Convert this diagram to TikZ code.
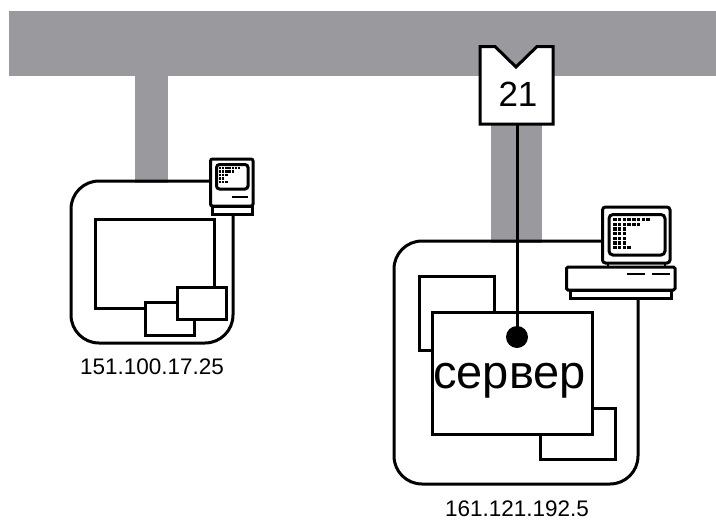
\documentclass[tikz,border=0pt]{standalone}
\usepackage{fontspec}
\setmainfont{Liberation Sans}
\tikzset{
  ln/.style={draw=black,line width=3pt},
  wbox/.style={ln,fill=white,rectangle,inner sep=0pt,outer sep=0pt,anchor=north west},
  label txt/.style={font=\fontsize{22.5}{24}\selectfont,inner sep=0pt},
  bar/.style={fill=barg,draw=none},
  pix/.style={fill=black,draw=none}
}
\definecolor{barg}{HTML}{99999E}
\newcommand{\boxat}[5]{\node[wbox,minimum width=#4pt,minimum height=#5pt] (#1) at (#2,#3) {};}
\newcommand{\dotrow}[5]{% x0,y,dx,count,size
  \foreach \i in {1,...,#4} {\fill[pix] ({#1+(\i-1)*#3-#5/2},{#2-#5/2}) rectangle ++(#5,#5);}}
\begin{document}
\begin{tikzpicture}[x=1pt,y=-1pt]
\useasboundingbox (0,0) rectangle (716,520);
% network bars
\fill[bar] (9,11) rectangle (716,76);
\fill[bar] (135,76) rectangle (168,183);
\fill[bar] (491,120) rectangle (542,243);
% left host
\coordinate (lA) at (210,181);
\coordinate (lB) at (233,214);
\draw[ln,rounded corners=28pt] (lA) -- (71,181) -- (71,343) -- (233,343) -- (lB);
\boxat{lmain}{95}{219}{119}{89}
\boxat{lsmA}{145}{302}{49}{33}
\boxat{lsmB}{177}{287}{49}{32}
% left Mac
\draw[ln,fill=white,rounded corners=2pt] (210.5,159) rectangle (253,206);
\draw[ln,fill=white] (212,206) rectangle (252,214);
\draw[ln,rounded corners=3pt] (216.5,164.5) rectangle (248,189);
\draw[line width=2pt] (232,197) -- (248,197);
\dotrow{220}{168}{3.2}{7}{2.4}
\dotrow{220}{171.5}{3.2}{5}{2.4}
\dotrow{220}{175}{3.2}{3}{2.4}
\dotrow{220}{178.5}{3.2}{2}{2.4}
\dotrow{220}{182}{3.2}{3}{2.4}
\node[label txt] (lip) at (152,367) {151.100.17.25};
% right host
\coordinate (rA) at (602,241);
\coordinate (rB) at (638,298);
\draw[ln,rounded corners=28pt] (rA) -- (394,241) -- (394,484) -- (638,484) -- (rB);
\boxat{rsmA}{419}{276}{75}{74}
\boxat{rsmB}{540}{408}{75}{51}
\node[wbox,minimum width=160pt,minimum height=122pt] (srv) at (432,312) {};
\node[font=\fontsize{47}{50}\selectfont,inner sep=0pt] (srvt) at (509.5,381) {сервер};
% right computer
\draw[ln,fill=white,rounded corners=3pt] (602.5,207) rectangle (670,263);
\draw[ln,rounded corners=4pt] (609,214.5) rectangle (665,255);
\draw[ln,fill=white] (570.5,290) rectangle (671.5,298);
\draw[ln,fill=white,rounded corners=1.5pt] (566.5,267) rectangle (675,290);
\draw[line width=2.5pt] (608,263) -- (608,267) (665,263) -- (665,267);
\draw[line width=2.2pt] (627,274) -- (645,274) (652,274) -- (670,274);
\dotrow{615}{219.5}{4.7}{8}{3.4}
\dotrow{615}{224.2}{4.7}{6}{3.4}
\dotrow{615}{228.9}{4.7}{3}{3.4}
\dotrow{615}{233.6}{4.7}{3}{3.4}
\dotrow{615}{238.3}{4.7}{3}{3.4}
\dotrow{615}{243}{4.7}{3}{3.4}
\dotrow{615}{247.7}{4.7}{4}{3.4}
\node[label txt] (rip) at (517,509) {161.121.192.5};
% port tag
\draw[ln,fill=white,line join=miter] (480,46.5) -- (495,46.5) -- (516,67) -- (537,46.5) -- (553,46.5) -- (553,124) -- (480,124) -- cycle;
\node[font=\fontsize{35}{38}\selectfont,inner sep=0pt] (port) at (518,94.5) {21};
\coordinate (tagb) at (517,124);
\node[circle,fill=black,minimum size=22pt,inner sep=0pt] (sock) at (517,337) {};
\draw[ln] (tagb) -- (sock.center);
\end{tikzpicture}
\end{document}
